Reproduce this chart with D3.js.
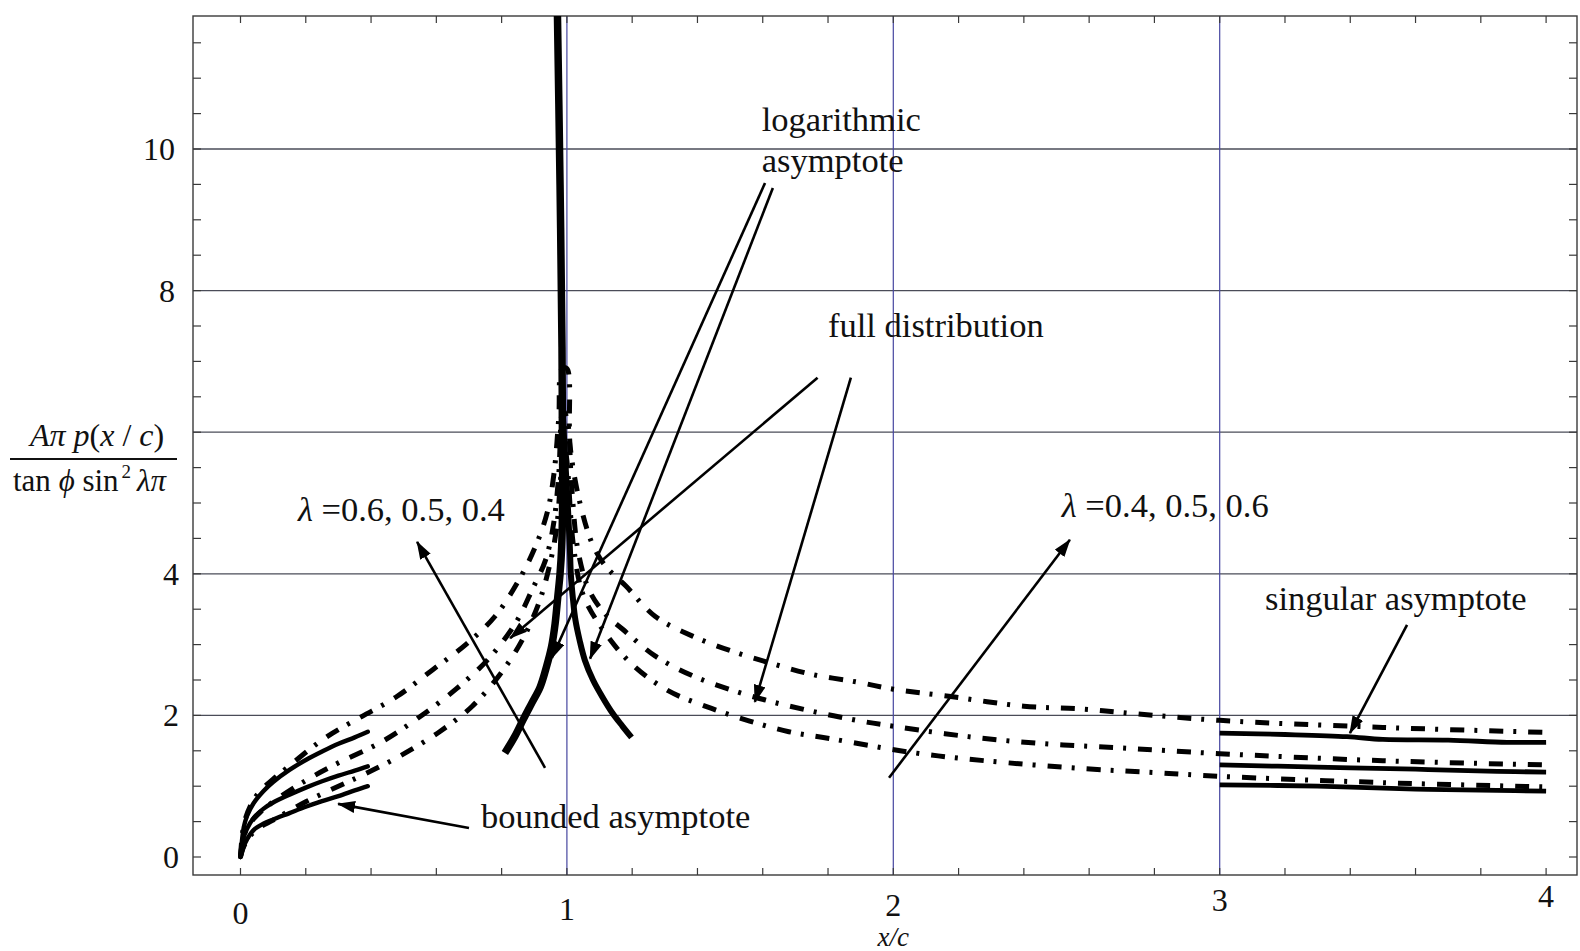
<!DOCTYPE html>
<html><head><meta charset="utf-8">
<script src="https://cdn.jsdelivr.net/npm/d3@7"></script>
<style>
body{margin:0;background:#fff}
svg{display:block}
text{font-family:"Liberation Serif","Times New Roman",serif;fill:#111}
</style>
</head><body>
<svg id="c" width="1580" height="951"></svg>
<script>
// ---------- tick labels / grid ----------
const xTickLabels=[0,1,2,3,4];
const yTickLabels=[0,2,4,8,10];
const yGridValues=[2,4,6,8,10];
const xGridValues=[1,2,3];

// ---------- bounded asymptote (solid), lambda = 0.6, 0.5, 0.4 ----------
const bounded06=[[0,0],[0.01,0.42],[0.02,0.58],[0.04,0.76],[0.07,0.93],[0.1,1.06],[0.15,1.23],[0.2,1.37],[0.25,1.49],[0.3,1.6],[0.35,1.69],[0.39,1.77]];
const bounded05=[[0,0],[0.01,0.28],[0.02,0.4],[0.04,0.55],[0.07,0.68],[0.1,0.77],[0.15,0.88],[0.2,0.98],[0.25,1.07],[0.3,1.15],[0.35,1.22],[0.39,1.28]];
const bounded04=[[0,0],[0.01,0.15],[0.02,0.25],[0.04,0.38],[0.07,0.47],[0.1,0.53],[0.15,0.62],[0.2,0.71],[0.25,0.79],[0.3,0.86],[0.35,0.94],[0.39,1.0]];

// ---------- full distribution (dash-dot) ----------
const full06=[[0,0],[0.01,0.45],[0.03,0.72],[0.06,0.93],[0.1,1.1],[0.14,1.25],[0.24,1.62],[0.3,1.8],[0.374,1.99],[0.48,2.27],[0.59,2.65],[0.69,3.0],[0.78,3.4],[0.855,3.93],[0.905,4.4],[0.94,4.87],[0.96,5.4],[0.975,6.2],[0.985,6.9],
 [1.0,6.9],[1.01,5.8],[1.04,5.0],[1.08,4.4],[1.12,4.1],[1.18,3.83],[1.27,3.4],[1.385,3.12],[1.51,2.9],[1.63,2.73],[1.75,2.58],[1.89,2.47],[2.0,2.37],[2.17,2.27],[2.4,2.13],[2.58,2.09],[2.75,2.02],[3.0,1.93],[3.5,1.83],[4.0,1.76]];
const full05=[[0,0],[0.01,0.3],[0.03,0.48],[0.06,0.63],[0.1,0.78],[0.2,1.08],[0.3,1.33],[0.43,1.62],[0.54,1.95],[0.66,2.37],[0.76,2.8],[0.845,3.32],[0.895,3.79],[0.935,4.2],[0.96,4.73],[0.975,5.4],[0.988,6.3],
 [1.0,6.2],[1.015,5.2],[1.035,4.3],[1.07,3.75],[1.12,3.42],[1.17,3.22],[1.27,2.84],[1.385,2.56],[1.51,2.35],[1.63,2.19],[1.76,2.05],[1.9,1.92],[2.01,1.84],[2.23,1.7],[2.46,1.6],[2.7,1.54],[3.0,1.46],[3.5,1.36],[4.0,1.3]];
const full04=[[0,0],[0.01,0.15],[0.03,0.3],[0.06,0.42],[0.1,0.52],[0.2,0.78],[0.3,1.0],[0.38,1.17],[0.49,1.43],[0.61,1.77],[0.71,2.13],[0.8,2.61],[0.865,3.08],[0.915,3.6],[0.946,4.1],[0.968,4.63],[0.98,5.3],[0.99,5.9],
 [1.0,5.6],[1.02,4.4],[1.05,3.7],[1.115,3.18],[1.2,2.72],[1.31,2.35],[1.43,2.12],[1.56,1.92],[1.68,1.77],[1.81,1.67],[2.05,1.48],[2.28,1.36],[2.58,1.25],[2.81,1.19],[3.0,1.14],[3.5,1.05],[4.0,0.99]];

// ---------- logarithmic asymptote (thick solid) ----------
const logLeft=[[0.81,1.47],[0.84,1.7],[0.866,1.94],[0.892,2.17],[0.918,2.4],[0.937,2.68],[0.953,2.97],[0.964,3.3],[0.972,3.67],[0.979,4.0],[0.984,4.38],[0.987,5.08],[0.986,6.2],[0.985,7.2],[0.979,9.5],[0.97,12.2]];
const logRight=[[1.198,1.69],[1.17,1.85],[1.14,2.03],[1.11,2.25],[1.08,2.5],[1.055,2.78],[1.039,3.06],[1.026,3.35],[1.018,3.67],[1.012,4.0],[1.009,4.38],[1.003,4.94],[0.995,5.6],[0.988,6.2]];

// ---------- singular asymptote (solid) ----------
const singular06=[[3.0,1.75],[3.2,1.73],[3.39,1.7],[3.5,1.66],[3.7,1.65],[3.88,1.62],[4.0,1.62]];
const singular05=[[3.0,1.3],[3.3,1.27],[3.6,1.24],[3.85,1.21],[4.0,1.2]];
const singular04=[[3.0,1.02],[3.3,1.0],[3.6,0.96],[3.85,0.94],[4.0,0.93]];

// ---------- annotations (data units) ----------
const arrows=[
 {from:[1.607,9.52],to:[0.954,2.81]},
 {from:[1.631,9.45],to:[1.071,2.80]},
 {from:[1.768,6.77],to:[0.826,3.09]},
 {from:[1.870,6.77],to:[1.576,2.19]},
 {from:[0.933,1.26],to:[0.541,4.45]},
 {from:[1.987,1.12],to:[2.541,4.48]},
 {from:[0.700,0.41],to:[0.299,0.75]},
 {from:[3.574,3.28],to:[3.399,1.75]}
];
const labels=[
 {at:[1.597,10.25],lam:false,text:"logarithmic"},
 {at:[1.597,9.675],lam:false,text:"asymptote"},
 {at:[1.80,7.34],lam:false,text:"full distribution"},
 {at:[0.176,4.75],lam:true,text:" =0.6, 0.5, 0.4"},
 {at:[2.516,4.80],lam:true,text:" =0.4, 0.5, 0.6"},
 {at:[3.139,3.49],lam:false,text:"singular asymptote"},
 {at:[0.737,0.41],lam:false,text:"bounded asymptote"}
];

// ---------- drawing ----------
const svg=d3.select("#c");
const x=d3.scaleLinear().domain([0,4]).range([240.5,1546.1]);
const y=d3.scaleLinear().domain([0,10]).range([857,149]);
const xMin=x.invert(193), xMax=x.invert(1577);
const yMin=y.invert(875), yMax=y.invert(16);
const L=x(xMin),R=x(xMax),T=y(yMax),B=y(yMin);

svg.append("rect").attr("width",1580).attr("height",951).attr("fill","#fff");
const defs=svg.append("defs");
defs.append("clipPath").attr("id","clip").append("rect")
 .attr("x",L).attr("y",T).attr("width",R-L).attr("height",B-T);
defs.append("marker").attr("id","ah").attr("viewBox","0 0 18 12")
 .attr("refX",17).attr("refY",6).attr("markerWidth",18).attr("markerHeight",12)
 .attr("markerUnits","userSpaceOnUse").attr("orient","auto")
 .append("path").attr("d","M0,0L18,6L0,12Z").attr("fill","#000");

// grid
svg.append("g").selectAll("line").data(yGridValues).join("line")
 .attr("x1",L).attr("x2",R).attr("y1",d=>y(d)).attr("y2",d=>y(d))
 .attr("stroke","#4a4c58").attr("stroke-width",1.3);
svg.append("g").selectAll("line").data(xGridValues).join("line")
 .attr("y1",T).attr("y2",B).attr("x1",d=>x(d)).attr("x2",d=>x(d))
 .attr("stroke","#4646a0").attr("stroke-width",1.2);

// frame
svg.append("rect").attr("x",L).attr("y",T).attr("width",R-L).attr("height",B-T)
 .attr("fill","none").attr("stroke","#3a3a3a").attr("stroke-width",1.4);

// minor ticks (inward)
const xt=d3.range(0,4.0001,0.2), yt=d3.range(0,yMax,0.5);
const tk=svg.append("g").attr("stroke","#3a3a3a").attr("stroke-width",1.2);
tk.selectAll(".tt").data(xt).join("line").attr("x1",d=>x(d)).attr("x2",d=>x(d)).attr("y1",T).attr("y2",T+7);
tk.selectAll(".tb").data(xt).join("line").attr("x1",d=>x(d)).attr("x2",d=>x(d)).attr("y1",B).attr("y2",B-7);
tk.selectAll(".tl").data(yt).join("line").attr("y1",d=>y(d)).attr("y2",d=>y(d)).attr("x1",L).attr("x2",L+8);
tk.selectAll(".tr").data(yt).join("line").attr("y1",d=>y(d)).attr("y2",d=>y(d)).attr("x1",R).attr("x2",R-8);

// tick labels
svg.append("g").selectAll("text").data(xTickLabels).join("text")
 .attr("x",d=>x(d)).attr("y",d=>924-(x(d)-x(0))*0.013)
 .attr("text-anchor","middle").attr("font-size",32).text(d=>d);
svg.append("g").selectAll("text").data(yTickLabels).join("text")
 .attr("x",d=>175+(d<5?4:0)).attr("y",d=>y(d)+11)
 .attr("text-anchor","end").attr("font-size",32).text(d=>d);

// axis titles
svg.append("text").attr("x",x(2)).attr("y",946).attr("text-anchor","middle")
 .attr("font-size",27).attr("font-style","italic").text("x/c");
const num=svg.append("text").attr("x",30).attr("y",446).attr("font-size",32);
num.append("tspan").attr("font-style","italic").text("Aπ p");
num.append("tspan").text("(");
num.append("tspan").attr("font-style","italic").text("x");
num.append("tspan").text(" / ");
num.append("tspan").attr("font-style","italic").text("c");
num.append("tspan").text(")");
svg.append("line").attr("x1",10).attr("x2",177).attr("y1",459).attr("y2",459)
 .attr("stroke","#111").attr("stroke-width",2);
const den=svg.append("text").attr("x",13).attr("y",491).attr("font-size",31);
den.append("tspan").text("tan ");
den.append("tspan").attr("font-style","italic").text("ϕ");
den.append("tspan").text(" sin");
den.append("tspan").attr("font-size",19).attr("dy",-13).attr("dx",3).text("2");
den.append("tspan").attr("font-style","italic").attr("dy",13).attr("dx",6).text("λπ");

// curves
const plot=svg.append("g").attr("clip-path","url(#clip)");
const line=d3.line().x(d=>x(d[0])).y(d=>y(d[1])).curve(d3.curveCatmullRom.alpha(0.5));
[full06,full05,full04].forEach(s=>{
 plot.append("path").attr("d",line(s)).attr("fill","none").attr("stroke","#000")
  .attr("stroke-width",5).attr("stroke-dasharray","14,10,3,12");
});
[bounded06,bounded05,bounded04].forEach(s=>{
 plot.append("path").attr("d",line(s)).attr("fill","none").attr("stroke","#000")
  .attr("stroke-width",4.4).attr("stroke-linecap","round");
});
[singular06,singular05,singular04].forEach(s=>{
 plot.append("path").attr("d",line(s)).attr("fill","none").attr("stroke","#000")
  .attr("stroke-width",4.8);
});
plot.append("path").attr("d",line(logLeft)).attr("fill","none").attr("stroke","#000").attr("stroke-width",7.5);
plot.append("path").attr("d",line(logRight)).attr("fill","none").attr("stroke","#000").attr("stroke-width",6);

// arrows
svg.append("g").selectAll("line").data(arrows).join("line")
 .attr("x1",d=>x(d.from[0])).attr("y1",d=>y(d.from[1]))
 .attr("x2",d=>x(d.to[0])).attr("y2",d=>y(d.to[1]))
 .attr("stroke","#000").attr("stroke-width",2.6).attr("marker-end","url(#ah)");

// annotation text
const at=svg.append("g").selectAll("text").data(labels).join("text")
 .attr("x",d=>x(d.at[0])).attr("y",d=>y(d.at[1])).attr("font-size",34.5);
at.each(function(d){
 const t=d3.select(this);
 if(d.lam){t.append("tspan").attr("font-style","italic").text("λ");}
 t.append("tspan").text(d.text);
});
</script>
</body></html>
